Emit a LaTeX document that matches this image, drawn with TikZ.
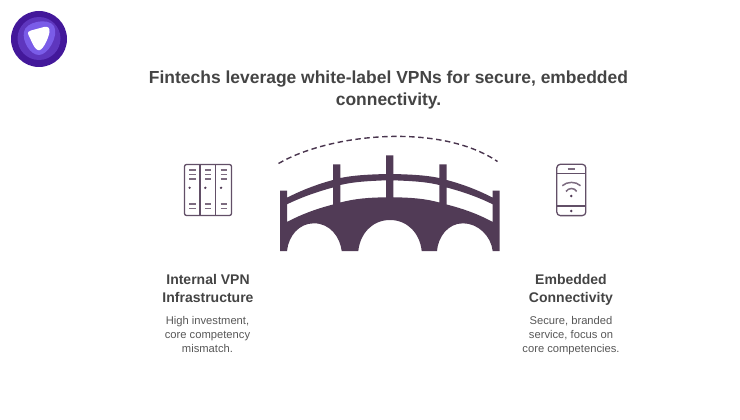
\documentclass[tikz,border=0pt]{standalone}
\usepackage{fontspec}
\setmainfont{Liberation Sans}
\definecolor{bridgec}{HTML}{513B56}
\definecolor{titlec}{HTML}{444444}
\definecolor{logoa}{HTML}{43189A}
\definecolor{logob}{HTML}{5E36BE}
\definecolor{logoc}{HTML}{7A5CE8}
\tikzset{
  titletxt/.style={font=\fontsize{17.45}{22}\selectfont\bfseries,text=titlec,align=center,inner sep=0pt,anchor=base},
  headtxt/.style={font=\fontsize{14}{18}\selectfont\bfseries,text=titlec,align=center,inner sep=0pt,anchor=base},
  desctxt/.style={font=\fontsize{11.2}{14}\selectfont,text=titlec!90,align=center,inner sep=0pt,anchor=base},
  iconline/.style={draw=bridgec!90,line width=1.3pt},
  iconthick/.style={draw=bridgec!75,line width=1.5pt},
}
\begin{document}
\begin{tikzpicture}[x=1pt,y=-1pt]
\useasboundingbox (0,0) rectangle (740,420);
% logo
\fill[logoa] (39,39) circle (28);
\fill[logob] (39,38.5) circle (21.5);
\fill[logoc] (24,32) .. controls (25,22) and (48,17) .. (54,26) .. controls (59,36) and (48,55) .. (39,55) .. controls (30,55) and (22,41) .. (24,32) -- cycle;
\fill[white] (28.5,35) .. controls (27,32) and (29,31) .. (31,30.5) -- (44,27) .. controls (48,26) and (50,28) .. (49.5,32) .. controls (48.5,38) and (44,48) .. (40,50) .. controls (37,51) and (35,48) .. (33,44.5) -- cycle;
% title
\node[titletxt] (title) at (388.5,105.5) {Fintechs leverage white-label VPNs for secure, embedded\\connectivity.};
% dashed arc
\coordinate (arcl) at (278.5,163.5);
\coordinate (arcr) at (497.5,161.5);
\draw[bridgec!90!black,line width=1.4pt,dash pattern=on 5.5pt off 3.5pt] (arcl) .. controls (330,133.5) and (440,122.5) .. (arcr);
% bridge
\fill[bridgec,even odd rule]
  (280,190.7) -- (287,190.7) -- (287,197.7)
  .. controls (302,190) and (318,184) .. (333,180) -- (333,164.3) -- (340.3,164.3) -- (340.3,178)
  .. controls (355,175) and (370,174.5) .. (386,174) -- (386,155.3) -- (393.3,155.3) -- (393.3,174)
  .. controls (410,174.5) and (425,175) .. (439.3,178) -- (439.3,164.3) -- (446.7,164.3) -- (446.7,180)
  .. controls (462,184) and (478,190) .. (492.7,197.7) -- (492.7,190.7) -- (499.7,190.7) -- (499.7,251)
  -- (492.7,251) .. controls (491,236) and (478,223.3) .. (463,223.3) .. controls (448,223.3) and (438,237) .. (437,251)
  -- (421.7,251) .. controls (420,234) and (408,220) .. (390,220) .. controls (372,220) and (360,234) .. (358.3,251)
  -- (341.7,251) .. controls (340,237) and (330,223.3) .. (314,223.3) .. controls (299,223.3) and (288.5,236) .. (287,251)
  -- (280,251) -- cycle
  (287,204.3) .. controls (302,197) and (318,191.5) .. (333,187.5) -- (333,204.5) .. controls (316,209) and (302,214) .. (287,222) -- cycle
  (340.3,185) .. controls (355,181.5) and (370,181) .. (386,180.3) -- (386,197.3) .. controls (370,197.5) and (355,198.5) .. (340.3,202.5) -- cycle
  (393.3,180.3) .. controls (410,181) and (425,181.5) .. (439.3,185) -- (439.3,202.5) .. controls (425,198.5) and (410,197.5) .. (393.3,197.3) -- cycle
  (446.7,187.5) .. controls (462,191.5) and (478,197) .. (492.7,204.3) -- (492.7,222) .. controls (478,214) and (464,209) .. (446.7,204.5) -- cycle;
% server icon
\draw[iconline,rounded corners=2pt] (184.5,164.5) rectangle (231.5,215.5);
\draw[iconline] (200,164.5) -- (200,215.5) (215.5,164.5) -- (215.5,215.5);
\foreach \cx in {192.3,208,223.7}{
  \foreach \yy in {170,174.5,179,204,208.5}{
    \draw[iconthick] (\cx-3.2,\yy) -- (\cx+3.2,\yy);
  }
  \fill[bridgec] (\cx-2.7,187.8) circle (1.3);
}
% phone icon
\draw[iconline,rounded corners=3.5pt] (556.8,164.3) rectangle (585.8,215.6);
\draw[iconline] (556.8,173.3) -- (585.8,173.3) (556.8,206) -- (585.8,206);
\draw[iconthick] (567.7,169) -- (575,169);
\fill[bridgec] (571.3,211) circle (1.4);
\fill[bridgec] (571.3,196) circle (1.4);
\draw[iconthick] (562.3,185.7) .. controls (567,181.3) and (576,181.3) .. (580.5,185.7);
\draw[iconthick] (566,191.5) .. controls (568.5,187.5) and (574.5,187.5) .. (576.7,191.5);
% labels
\node[headtxt] (lh) at (208,302) {Internal VPN\\Infrastructure};
\node[desctxt] (ld) at (207.5,352) {High investment,\\core competency\\mismatch.};
\node[headtxt] (rh) at (571,302) {Embedded\\Connectivity};
\node[desctxt] (rd) at (571,352) {Secure, branded\\service, focus on\\core competencies.};
\end{tikzpicture}
\end{document}
